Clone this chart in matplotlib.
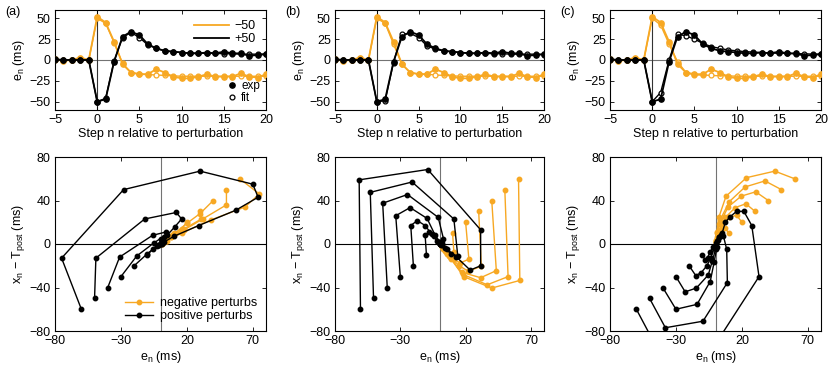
import numpy as np
import matplotlib.pyplot as plt
from matplotlib.lines import Line2D

plt.rcParams['font.family'] = ['Liberation Sans', 'DejaVu Sans']
plt.rcParams['font.size'] = 9
plt.rcParams['mathtext.fontset'] = 'custom'
plt.rcParams['mathtext.rm'] = 'Liberation Sans'
plt.rcParams['axes.unicode_minus'] = True

ORANGE = '#F7A823'

# step index relative to perturbation
steps = list(range(-5, 21))

# measured step errors (same experiment in all panels)
exp_neg = [1, -1, 0, 3, 0, 52, 45, 22, -5, -15, -17, -17, -11, -15, -20, -22,
           -22, -20, -17, -20, -20, -20, -16, -20, -21, -17]
exp_pos = [1, 0, 0, 0, 0, -50, -47, -2, 28, 34, 30, 19, 14, 11, 10, 9,
           8, 8, 9, 8, 10, 8, 8, 5, 6, 7]

# model fits, one per panel
fit_neg_a = [0, 0, 0, 0, 0, 50, 44, 21, -4, -15, -17, -17.5, -18, -18.5, -19, -19.5,
             -19.5, -19.5, -19.5, -19.5, -19.5, -19.5, -19.5, -19.5, -19.5, -19.5]
fit_pos_a = [0, 0, 0, 0, 0, -50, -46, -1, 27, 33, 27, 18, 14, 11, 10, 9,
             8.5, 8, 8, 8, 7.5, 7.5, 7, 7, 7, 7]
fit_neg_b = [0, 0, 0, 0, 0, 50, 44, 19, -5, -15, -17, -17, -18, -18.5, -19, -19.5,
             -19.5, -19.5, -19.5, -19.5, -19.5, -19.5, -19.5, -19.5, -19.5, -19.5]
fit_pos_b = [0, 0, 0, 0, 0, -50, -49, -3, 31, 32, 27, 17, 13, 11, 10, 9,
             8.5, 8, 8, 7.5, 7.5, 7, 7, 7, 7, 6.5]
fit_neg_c = [0, 0, 0, 0, 0, 50, 42, 19, -2, -15, -18, -18, -18.5, -19, -19, -19.5,
             -19.5, -19.5, -19.5, -19.5, -19.5, -19.5, -19.5, -19.5, -19.5, -19.5]
fit_pos_c = [0, 0, 0, 0, 0, -50, -39, 0, 31, 29, 25, 20, 16, 14, 12, 11,
             10, 9.5, 9, 8.5, 8, 8, 7.5, 7.5, 7, 7]

# phase-plane trajectories (e_n, x_n - T_post), one list per panel
traj_pos_a = [
    ([-60, -75, -28, 30, 70, 74, 57, 29, 10, 3, 1], [-60, -13, 50, 67, 55, 43, 31, 17, 7, 2, 0]),
    ([-50, -49, -12, 12, 16, 11, 5, 2, 0], [-50, -13, 23, 29, 23, 16, 8, 3, 0]),
    ([-40, -31, -6, 4, 3, 1, -1], [-40, -12, 8, 11, 6, 2, -1]),
    ([-30, -18, -5, 0, 2, 1], [-30, -11, 1, 5, 4, 1]),
    ([-20, -10, -3, 0, 1], [-20, -9, -2, 1, 1]),
    ([-10, -6, -2, 0, 1], [-10, -5, -1, 1, 1]),
]
traj_neg_a = [
    ([60, 75, 64, 38, 16, 5, 1], [60, 46, 34, 22, 10, 3, 0]),
    ([50, 50, 32, 18, 8, 2], [50, 36, 23, 13, 6, 1]),
    ([40, 30, 20, 10, 4, 1], [40, 28, 19, 9, 3, 0]),
    ([30, 31, 18, 9, 3], [30, 23, 14, 7, 2]),
    ([20, 16, 9, 3, 1], [20, 14, 8, 3, 1]),
    ([10, 8, 4, 1], [10, 6, 3, 1]),
]
traj_pos_b = [
    ([-60.5, -61.5, -9, 31.5, 31.5, 23.5, 13, 6, 2], [-60, 59, 68.5, 13, -20, -24, -12, -5, -1]),
    ([-50.5, -53, -21, 11, 14, 9, 4, 1], [-50, 47.5, 57, 23, -11, -9, -4, -1]),
    ([-40, -43.5, -24.5, -1, 3, 2, 0], [-40, 37.5, 45.5, 24.5, 5, 1, 0]),
    ([-30, -33.5, -22.5, -9.5, -3.5, 0, 1], [-30, 26, 33.5, 23.5, 8.5, 2, 0]),
    ([-20, -22, -17, -11, -6, -2, 0], [-20, 17, 21.5, 17, 9, 3, 0]),
    ([-10, -11, -8, -4, -1, 0], [-10, 8, 11, 7, 2, 0]),
]
traj_neg_b = [
    ([60.5, 61.5, 40, 18.5, 9, 4, 1], [60, -33.5, -40.5, -30, -14, -6, -1]),
    ([50, 52.5, 36.5, 18, 8, 3, 1], [50, -30, -37.5, -28, -12, -5, -1]),
    ([40, 43.5, 31.5, 17, 7, 3, 1], [40, -24.5, -31, -26, -11, -4, -1]),
    ([30, 32, 22, 15, 6, 2], [30, -20.5, -25, -20, -9, -3]),
    ([20, 22.5, 15.5, 11, 5, 2], [20, -14, -17.5, -14, -7, -2]),
    ([10, 11, 9, 5, 2], [10, -7, -9.5, -6, -2]),
]
traj_pos_c = [
    ([-60, -46, 0, 33, 27.5, 21.5, 16, 11, 7.5, 5, 3], [-60, -92, -92, -30, 17, 30, 30, 25, 20, 10, 6]),
    ([-50, -38, -9.5, 9, 8.5, 6, 4], [-50, -77, -71, -35.5, -5, 7.5, 8]),
    ([-40, -30, -14, -4, -1, 1, 3], [-40, -60, -55.5, -34.5, -16.5, -3, 6]),
    ([-30, -23, -14.5, -5.5, -2.5, 0, 2], [-30, -44, -40.5, -28.5, -16, -5, 4]),
    ([-20, -15, -11, -6.5, -3.5, -1, 1], [-20, -29, -26.5, -20, -12.5, -4, 3]),
    ([-10, -8, -6, -4, -2, 0], [-10, -14.5, -12.5, -7, -3, 1]),
]
traj_neg_c = [
    ([60, 45, 23.5, 8, 2.5, 1, 0], [60, 67, 61, 44, 24.5, 11, 4]),
    ([50, 37.5, 22.5, 10.5, 3.5, 1, 0], [50, 58, 52.5, 39, 22, 10, 3]),
    ([40, 30.5, 19.5, 9.5, 3, 1], [40, 48, 44, 34, 18, 6]),
    ([30, 23, 15, 7.5, 2.5, 0], [30, 37, 33.5, 24.5, 12, 3]),
    ([20, 16, 10.5, 5, 2, 0], [20, 26.5, 24.5, 17, 8, 2]),
    ([10, 7.5, 4.5, 2, 0], [10, 14.5, 13, 7, 2]),
]

panel_labels = ['(a)', '(b)', '(c)']
fits = [(fit_neg_a, fit_pos_a), (fit_neg_b, fit_pos_b), (fit_neg_c, fit_pos_c)]
trajs = [(traj_neg_a, traj_pos_a), (traj_neg_b, traj_pos_b), (traj_neg_c, traj_pos_c)]


def style_axes(ax):
    ax.tick_params(direction='in', top=True, right=True, length=3, width=0.6,
                   labelsize=9, pad=3)
    for s in ax.spines.values():
        s.set_linewidth(0.8)


W, H = 831, 367
fig = plt.figure(figsize=(W / 100, H / 100), dpi=100)
lefts = [55, 335, 610]
widths = [211, 209, 211]

for i in range(3):
    ax = fig.add_axes([lefts[i] / W, 1 - 110 / H, widths[i] / W, 100 / H])
    fit_neg, fit_pos = fits[i]
    ax.axhline(0, color='0.45', lw=0.8, zorder=1)
    ax.axvline(0, color='0.2', lw=0.8, zorder=1)
    ax.plot(steps, fit_neg, '-o', color=ORANGE, lw=1.0, ms=3.5, mfc='white', mew=0.9, zorder=2)
    ax.plot(steps, exp_neg, '-o', color=ORANGE, lw=1.3, ms=3.8, zorder=3)
    ax.plot(steps, fit_pos, '-o', color='black', lw=1.0, ms=3.5, mfc='white', mew=0.9, zorder=4)
    ax.plot(steps, exp_pos, '-o', color='black', lw=1.3, ms=3.8, zorder=5)
    ax.set_xlim(-5, 20)
    ax.set_ylim(-60, 60)
    ax.set_xticks([-5, 0, 5, 10, 15, 20])
    ax.set_yticks([-50, -25, 0, 25, 50])
    ax.set_xlabel('Step n relative to perturbation', labelpad=1)
    ax.set_ylabel('e$_\\mathregular{n}$ (ms)', labelpad=2)
    style_axes(ax)
    fig.text((lefts[i] - 50) / W, 1 - 12 / H, panel_labels[i], fontsize=9, va='center')

    if i == 0:
        h1 = [Line2D([], [], color=ORANGE, lw=1.3), Line2D([], [], color='black', lw=1.3)]
        leg1 = ax.legend(h1, ['\u221250', '+50'], loc='upper right', frameon=False,
                         handlelength=2.8, handletextpad=0.5, labelspacing=0.1,
                         borderaxespad=0.4, fontsize=9)
        ax.add_artist(leg1)
        h2 = [Line2D([], [], ls='', marker='o', color='black', ms=3.8),
              Line2D([], [], ls='', marker='o', color='black', ms=3.5, mfc='white', mew=0.9)]
        ax.legend(h2, ['exp', 'fit'], loc='lower right', frameon=False,
                  handlelength=0.8, handletextpad=0.4, labelspacing=0.0,
                  borderaxespad=0.1, fontsize=8.5)

    bx = fig.add_axes([lefts[i] / W, 1 - 331 / H, widths[i] / W, 174 / H])
    tneg, tpos = trajs[i]
    bx.axhline(0, color='black', lw=0.8, zorder=1)
    bx.axvline(0, color='0.45', lw=0.8, zorder=1)
    for xs, ys in tpos:
        bx.plot(xs, ys, '-o', color='black', lw=1.0, ms=3.2, zorder=3)
    for xs, ys in tneg:
        bx.plot(xs, ys, '-o', color=ORANGE, lw=1.0, ms=3.2, zorder=2)
    bx.set_xlim(-80, 80)
    bx.set_ylim(-80, 80)
    bx.set_xticks([-80, -30, 20, 70])
    bx.set_yticks([-80, -40, 0, 40, 80])
    bx.set_xlabel('e$_\\mathregular{n}$ (ms)', labelpad=1)
    bx.set_ylabel('x$_\\mathregular{n}$ \u2212 T$_\\mathregular{post}$ (ms)', labelpad=2)
    style_axes(bx)

    if i == 0:
        h3 = [Line2D([], [], color=ORANGE, lw=1.0, marker='o', ms=3.2),
              Line2D([], [], color='black', lw=1.0, marker='o', ms=3.2)]
        bx.legend(h3, ['negative perturbs', 'positive perturbs'], loc='lower right',
                  frameon=False, handlelength=2.2, handletextpad=0.6, labelspacing=0.1,
                  borderaxespad=0.3, fontsize=9)

fig.savefig('out.png', dpi=100)
